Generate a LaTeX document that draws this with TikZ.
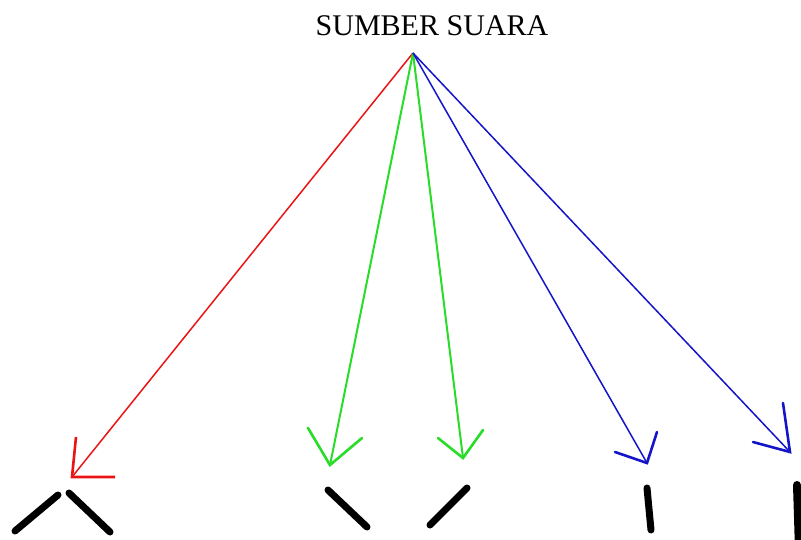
\documentclass[tikz,border=0pt]{standalone}
\usepackage{fontspec}
\setmainfont{Liberation Serif}
\definecolor{rd}{RGB}{235,20,20}
\definecolor{gr}{RGB}{40,220,40}
\definecolor{bl}{RGB}{20,20,200}
\tikzset{
  ray/.style={line width=1.5pt},
  barb/.style={line width=2.6pt, line cap=round},
  mark stroke/.style={line width=7pt, line cap=round, black},
}
\begin{document}
\begin{tikzpicture}[x=1pt,y=-1pt]
\useasboundingbox (0,0) rectangle (801,539);
\node[font=\fontsize{30}{32}\selectfont, inner sep=0pt, anchor=base] (title) at (432,35) {SUMBER SUARA};
\coordinate (src) at (413,53);
% red
\coordinate (t1) at (72,477);
\coordinate (r1a) at (76,437);
\coordinate (r1b) at (115,477);
\draw[ray,rd] (src) -- (t1);
\draw[barb,rd,line cap=butt] (r1a) -- (t1) -- (r1b);
% green
\coordinate (t2) at (330,465);
\coordinate (g2a) at (308,428);
\coordinate (g2b) at (362,438);
\coordinate (t3) at (463,458);
\coordinate (g3a) at (438,438);
\coordinate (g3b) at (483,430);
\draw[ray,gr,line width=2pt] (src) -- (t2);
\draw[ray,gr,line width=2pt] (src) -- (t3);
\draw[barb,gr] (g2a) -- (t2) -- (g2b);
\draw[barb,gr] (g3a) -- (t3) -- (g3b);
% blue
\coordinate (t4) at (647,463);
\coordinate (b4a) at (615,452);
\coordinate (b4b) at (657,432);
\coordinate (t5) at (790,452);
\coordinate (b5a) at (753,442);
\coordinate (b5b) at (783,403);
\draw[ray,bl] (src) -- (t4);
\draw[ray,bl] (src) -- (t5);
\draw[barb,bl] (b4a) -- (t4) -- (b4b);
\draw[barb,bl] (b5a) -- (t5) -- (b5b);
% black strokes
\coordinate (k1a) at (15,531);
\coordinate (k1b) at (58,495);
\coordinate (k2a) at (69,493);
\coordinate (k2b) at (110,532);
\coordinate (k3a) at (328,490);
\coordinate (k3b) at (367,527);
\coordinate (k4a) at (467,488);
\coordinate (k4b) at (430,525);
\coordinate (k5a) at (647,488);
\coordinate (k5b) at (651,530);
\coordinate (k6a) at (797,485);
\coordinate (k6b) at (799,550);
\draw[mark stroke] (k1a) -- (k1b);
\draw[mark stroke] (k2a) -- (k2b);
\draw[mark stroke] (k3a) -- (k3b);
\draw[mark stroke] (k4a) -- (k4b);
\draw[mark stroke] (k5a) -- (k5b);
\begin{scope}
\clip (0,0) rectangle (801,539);
\draw[mark stroke, line width=8pt] (k6a) -- (k6b);
\end{scope}
\end{tikzpicture}
\end{document}
